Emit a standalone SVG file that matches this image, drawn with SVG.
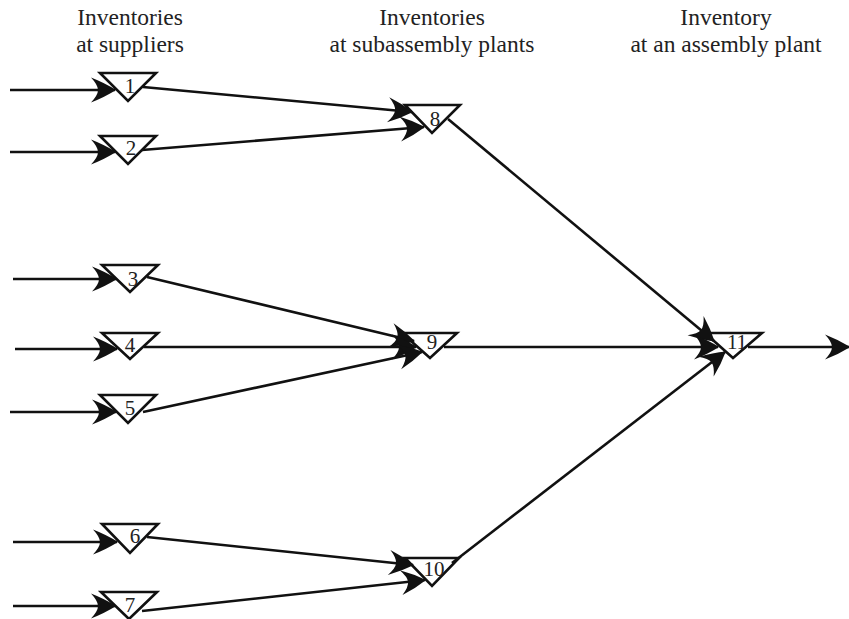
<svg xmlns="http://www.w3.org/2000/svg" width="849" height="619" viewBox="0 0 849 619">
<style>
.hdr{font-family:"Liberation Serif","DejaVu Serif","Times New Roman",serif;font-size:23.5px;fill:#222;text-anchor:middle}
.num{font-family:"Liberation Serif","DejaVu Serif","Times New Roman",serif;font-size:21px;fill:#222;text-anchor:middle}
.tri{fill:#fff;stroke:#111;stroke-width:2.6;stroke-linejoin:miter}
.con line{stroke:#111;stroke-width:2.6;fill:none;marker-end:url(#ah)}
</style>
<defs>
<marker id="ah" markerUnits="userSpaceOnUse" markerWidth="28" markerHeight="28" viewBox="-26 -14 28 28" refX="0" refY="0" orient="auto">
<path d="M1,0 Q-10,-7 -24,-12.5 Q-17,-5 -17,0 Q-17,5 -24,12.5 Q-10,7 1,0 Z" fill="#111"/>
</marker>
</defs>
<rect width="849" height="619" fill="#fff"/>
<g id="headers">
<text class="hdr" x="130" y="25">Inventories</text>
<text class="hdr" x="130" y="52">at suppliers</text>
<text class="hdr" x="432" y="25">Inventories</text>
<text class="hdr" x="432" y="52">at subassembly plants</text>
<text class="hdr" x="726" y="25">Inventory</text>
<text class="hdr" x="726" y="52">at an assembly plant</text>
</g>
<g id="n1"><polygon class="tri" points="100,73 156,73 128,101"/><text class="num" x="130" y="93">1</text></g>
<g id="n2"><polygon class="tri" points="100,136 156,136 128,164"/><text class="num" x="131" y="155">2</text></g>
<g id="n3"><polygon class="tri" points="102,265 158,265 130,292"/><text class="num" x="133" y="286">3</text></g>
<g id="n4"><polygon class="tri" points="102,333 158,333 130,359"/><text class="num" x="130" y="352">4</text></g>
<g id="n5"><polygon class="tri" points="100,395 156,395 128,423"/><text class="num" x="130" y="415">5</text></g>
<g id="n6"><polygon class="tri" points="102,524 158,524 130,553"/><text class="num" x="135" y="543">6</text></g>
<g id="n7"><polygon class="tri" points="101,592 157,592 129,619"/><text class="num" x="130" y="612">7</text></g>
<g id="n8"><polygon class="tri" points="405,105 460,105 432,133"/><text class="num" x="435" y="126">8</text></g>
<g id="n9"><polygon class="tri" points="402,333 457,333 430,358"/><text class="num" x="432" y="349">9</text></g>
<g id="n10"><polygon class="tri" points="405,558 459,558 432,586"/><text class="num" x="434" y="576">10</text></g>
<g id="n11"><polygon class="tri" points="705,333 762,333 733,358"/><text class="num" x="737" y="349">11</text></g>
<g id="connectors" class="con">
<line x1="10" y1="90" x2="115" y2="90"/>
<line x1="10" y1="152" x2="115" y2="152"/>
<line x1="13" y1="279" x2="116" y2="279"/>
<line x1="15" y1="349" x2="117" y2="349"/>
<line x1="10" y1="412" x2="116" y2="412"/>
<line x1="13" y1="542" x2="117" y2="542"/>
<line x1="13" y1="606" x2="115" y2="606"/>
<line x1="143" y1="87" x2="412" y2="112"/>
<line x1="142" y1="150" x2="424" y2="127"/>
<line x1="147" y1="277" x2="414" y2="341"/>
<line x1="144" y1="347" x2="416" y2="347"/>
<line x1="143" y1="412" x2="422" y2="352"/>
<line x1="147" y1="537" x2="413" y2="565"/>
<line x1="142" y1="611" x2="425" y2="580"/>
<line x1="448" y1="119" x2="714" y2="341"/>
<line x1="444" y1="347" x2="718" y2="347"/>
<line x1="452" y1="563" x2="725" y2="352"/>
<line x1="748" y1="347" x2="849" y2="347"/>
</g>
</svg>
